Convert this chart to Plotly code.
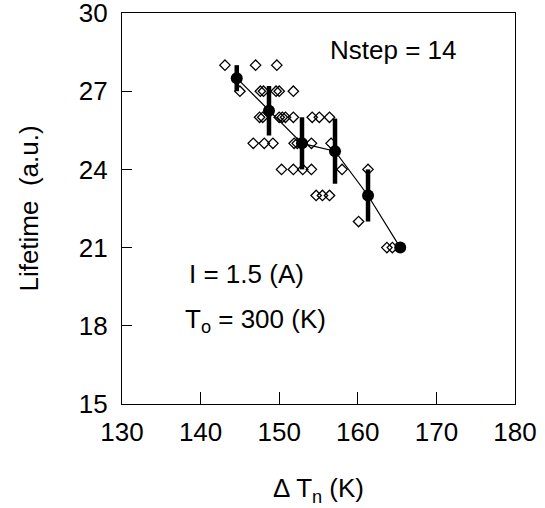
import plotly.graph_objects as go

# Raw measurements (diamonds)
raw_x = [143.1, 147.0, 149.7,
         145.0, 147.6, 148.0, 149.6, 150.0, 151.8,
         147.5, 147.9, 150.0, 150.4, 150.8, 151.8, 154.2, 155.1, 156.4,
         146.7, 148.1, 149.2, 151.9, 152.3, 154.1, 156.6,
         150.3, 151.8, 153.0, 154.1, 158.0, 161.3,
         154.7, 155.5, 156.4,
         160.1,
         163.7, 164.4]
raw_y = [28, 28, 28,
         27, 27, 27, 27, 27, 27,
         26, 26, 26, 26, 26, 26, 26, 26, 26,
         25, 25, 25, 25, 25, 25, 25,
         24, 24, 24, 24, 24, 24,
         23, 23, 23,
         22,
         21, 21]

# Averaged values with error bars
mean_x = [144.6, 148.7, 152.9, 157.1, 161.3, 165.4]
mean_y = [27.5, 26.25, 25.0, 24.7, 23.0, 21.0]
mean_err = [0.5, 0.95, 1.0, 1.25, 1.0, 0.0]

x_ticks = [130, 140, 150, 160, 170, 180]
y_ticks = [15, 18, 21, 24, 27, 30]

FONT = "Liberation Sans, Arial, sans-serif"
FS = 26

fig = go.Figure()
fig.add_trace(go.Scatter(
    x=raw_x, y=raw_y, mode="markers",
    marker=dict(symbol="diamond-open", size=8, color="black", line=dict(width=1.3, color="black")),
    showlegend=False, cliponaxis=False))
fig.add_trace(go.Scatter(
    x=mean_x, y=mean_y, mode="lines+markers",
    line=dict(color="black", width=1.2),
    marker=dict(symbol="circle", size=12, color="black"),
    error_y=dict(type="data", array=mean_err, visible=True, color="black", thickness=4.5, width=0),
    showlegend=False))

fig.add_annotation(x=156.2, y=28.57, xref="x", yref="y", text="Nstep = 14",
                   showarrow=False, xanchor="left", yanchor="middle", font=dict(family=FONT, size=FS, color="black"))
fig.add_annotation(x=138.3, y=20.0, xref="x", yref="y", text="I = 1.5 (A)",
                   showarrow=False, xanchor="left", yanchor="middle", font=dict(family=FONT, size=FS, color="black"))
fig.add_annotation(x=137.7, y=18.2, xref="x", yref="y", text="T<sub>o</sub> = 300 (K)",
                   showarrow=False, xanchor="left", yanchor="middle", font=dict(family=FONT, size=FS, color="black"))

fig.update_layout(
    width=545, height=508,
    margin=dict(l=122, r=30, t=13, b=104),
    paper_bgcolor="white", plot_bgcolor="white",
    font=dict(family=FONT, size=FS, color="black"),
    xaxis=dict(range=[129.999, 180.001], tickvals=x_ticks, ticks="inside", ticklen=12, tickwidth=1.3,
               tickcolor="black", showline=True, linecolor="black", linewidth=1.3, mirror=True,
               showgrid=False, zeroline=False, ticklabelstandoff=5, automargin=False,
               title=dict(text="Δ T<sub>n</sub> (K)", standoff=32, font=dict(size=FS))),
    yaxis=dict(range=[14.999, 30.001], tickvals=y_ticks, ticks="inside", ticklen=10, tickwidth=1.3,
               tickcolor="black", showline=True, linecolor="black", linewidth=1.3, mirror=True,
               showgrid=False, zeroline=False, ticklabelstandoff=8, ticklabeloverflow="allow",
               automargin=False,
               title=dict(text="Lifetime  (a.u.)", standoff=32, font=dict(size=FS))),
)

fig.write_html("out.html")
